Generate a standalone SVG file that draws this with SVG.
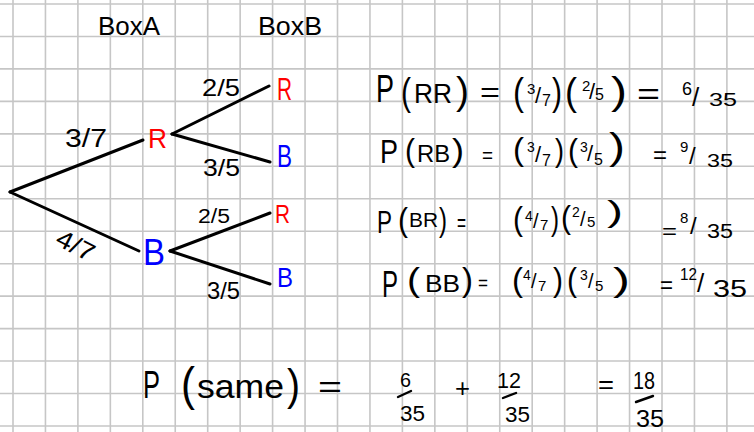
<svg xmlns="http://www.w3.org/2000/svg" width="754" height="432" viewBox="0 0 754 432">
<style>
.grid{stroke:#c6c6c6;stroke-width:1.6;fill:none}
.edge{stroke:#000;stroke-width:3;stroke-linecap:round;fill:none}
.bar{stroke:#000;stroke-width:2.4;stroke-linecap:round}
text{font-family:"Liberation Sans","DejaVu Sans",sans-serif;fill:#000}
.red{fill:#ff0000}
.blue{fill:#0000ff}
</style>
<rect width="754" height="432" fill="#fff"/>
<g id="grid" class="grid">
<path d="M13 0V432M45.45 0V432M77.9 0V432M110.35 0V432M142.8 0V432M175.25 0V432M207.7 0V432M240.15 0V432M272.6 0V432M305.05 0V432M337.5 0V432M369.95 0V432M402.4 0V432M434.85 0V432M467.3 0V432M499.75 0V432M532.2 0V432M564.65 0V432M597.1 0V432M629.55 0V432M662 0V432M694.45 0V432M726.9 0V432"/>
<path d="M0 4H754M0 36.46H754M0 68.92H754M0 101.38H754M0 133.84H754M0 166.3H754M0 198.76H754M0 231.22H754M0 263.68H754M0 296.14H754M0 328.6H754M0 361.06H754M0 393.52H754M0 425.98H754"/>
</g>
<g id="headers">
<text x="98" y="35" font-size="26" textLength="62" lengthAdjust="spacingAndGlyphs">BoxA</text>
<text x="258" y="35" font-size="26" textLength="64" lengthAdjust="spacingAndGlyphs">BoxB</text>
</g>
<g id="connectors">
<path class="edge" d="M10 192L143 140"/>
<path class="edge" d="M10 192L139 251"/>
<path class="edge" d="M172 134L269 86"/>
<path class="edge" d="M172 134L270 162"/>
<path class="edge" d="M170 251L270 213"/>
<path class="edge" d="M170 251L270 284"/>
<text x="65" y="147" font-size="26" textLength="42" lengthAdjust="spacingAndGlyphs">3/7</text>
<text transform="translate(58,236) rotate(27)" y="9" font-size="25" textLength="40" lengthAdjust="spacingAndGlyphs">4/7</text>
<text x="202" y="96" font-size="24" textLength="38" lengthAdjust="spacingAndGlyphs">2/5</text>
<text x="203" y="176" font-size="24" textLength="37" lengthAdjust="spacingAndGlyphs">3/5</text>
<text x="198" y="223" font-size="20" textLength="32" lengthAdjust="spacingAndGlyphs">2/5</text>
<text x="207" y="299" font-size="24" textLength="33" lengthAdjust="spacingAndGlyphs">3/5</text>
</g>
<g id="node-A-R"><text class="red" x="148" y="148" font-size="28" textLength="19" lengthAdjust="spacingAndGlyphs">R</text></g>
<g id="node-A-B"><text class="blue" x="143" y="265" font-size="36" textLength="22" lengthAdjust="spacingAndGlyphs">B</text></g>
<g id="node-RR"><text class="red" x="277" y="100" font-size="31" textLength="15" lengthAdjust="spacingAndGlyphs">R</text></g>
<g id="node-RB"><text class="blue" x="277" y="167" font-size="32" textLength="15" lengthAdjust="spacingAndGlyphs">B</text></g>
<g id="node-BR"><text class="red" x="275" y="223" font-size="25" textLength="15" lengthAdjust="spacingAndGlyphs">R</text></g>
<g id="node-BB"><text class="blue" x="277" y="287" font-size="28" textLength="16" lengthAdjust="spacingAndGlyphs">B</text></g>
<g id="eq-RR">
<text><tspan x="376" y="102" font-size="38" textLength="18" lengthAdjust="spacingAndGlyphs">P</tspan><tspan x="401" y="105" font-size="38" textLength="10" lengthAdjust="spacingAndGlyphs">(</tspan><tspan x="414" y="103" font-size="28" textLength="38" lengthAdjust="spacingAndGlyphs">RR</tspan><tspan x="456" y="104" font-size="38" textLength="13" lengthAdjust="spacingAndGlyphs">)</tspan><tspan x="480" y="102" font-size="28" textLength="20" lengthAdjust="spacingAndGlyphs">=</tspan><tspan x="513" y="105" font-size="38" textLength="11" lengthAdjust="spacingAndGlyphs">(</tspan><tspan x="527" y="94" font-size="15">3</tspan><tspan x="535" y="103" font-size="22">/</tspan><tspan x="542" y="106" font-size="16">7</tspan><tspan x="552" y="105" font-size="38" textLength="10" lengthAdjust="spacingAndGlyphs">)</tspan><tspan x="565" y="105" font-size="38" textLength="12" lengthAdjust="spacingAndGlyphs">(</tspan><tspan x="582" y="91" font-size="15">2</tspan><tspan x="589" y="99" font-size="22">/</tspan><tspan x="595" y="100" font-size="16">5</tspan><tspan x="611" y="104" font-size="38" textLength="16" lengthAdjust="spacingAndGlyphs">)</tspan><tspan x="637" y="104" font-size="30" textLength="23" lengthAdjust="spacingAndGlyphs">=</tspan><tspan x="682" y="95" font-size="18">6</tspan><tspan x="692" y="106" font-size="26">/</tspan><tspan x="709" y="106" font-size="19" textLength="28" lengthAdjust="spacingAndGlyphs">35</tspan></text>
</g>
<g id="eq-RB">
<text><tspan x="380" y="163" font-size="34" textLength="18" lengthAdjust="spacingAndGlyphs">P</tspan><tspan x="405" y="161" font-size="32" textLength="10" lengthAdjust="spacingAndGlyphs">(</tspan><tspan x="417" y="162" font-size="24" textLength="33" lengthAdjust="spacingAndGlyphs">RB</tspan><tspan x="452" y="161" font-size="32" textLength="12" lengthAdjust="spacingAndGlyphs">)</tspan><tspan x="482" y="163" font-size="22" textLength="11" lengthAdjust="spacingAndGlyphs">=</tspan><tspan x="513" y="160" font-size="32" textLength="11" lengthAdjust="spacingAndGlyphs">(</tspan><tspan x="527" y="152" font-size="14">3</tspan><tspan x="535" y="162" font-size="22">/</tspan><tspan x="542" y="166" font-size="16">7</tspan><tspan x="555" y="161" font-size="32" textLength="9" lengthAdjust="spacingAndGlyphs">)</tspan><tspan x="568" y="161" font-size="32" textLength="10" lengthAdjust="spacingAndGlyphs">(</tspan><tspan x="580" y="152" font-size="14">3</tspan><tspan x="587" y="161" font-size="22">/</tspan><tspan x="594" y="165" font-size="16">5</tspan><tspan x="609" y="159" font-size="36" textLength="16" lengthAdjust="spacingAndGlyphs">)</tspan><tspan x="653" y="163" font-size="24" textLength="14" lengthAdjust="spacingAndGlyphs">=</tspan><tspan x="680" y="152" font-size="15">9</tspan><tspan x="689" y="164" font-size="24">/</tspan><tspan x="707" y="167" font-size="19" textLength="26" lengthAdjust="spacingAndGlyphs">35</tspan></text>
</g>
<g id="eq-BR">
<text><tspan x="377" y="233" font-size="31" textLength="15" lengthAdjust="spacingAndGlyphs">P</tspan><tspan x="398" y="231" font-size="34" textLength="10" lengthAdjust="spacingAndGlyphs">(</tspan><tspan x="409" y="227" font-size="21" textLength="29" lengthAdjust="spacingAndGlyphs">BR</tspan><tspan x="439" y="231" font-size="34" textLength="8" lengthAdjust="spacingAndGlyphs">)</tspan><tspan x="457" y="231" font-size="26" textLength="9" lengthAdjust="spacingAndGlyphs">=</tspan><tspan x="513" y="230" font-size="34" textLength="10" lengthAdjust="spacingAndGlyphs">(</tspan><tspan x="525" y="221" font-size="14">4</tspan><tspan x="533" y="228" font-size="20">/</tspan><tspan x="540" y="230" font-size="15">7</tspan><tspan x="551" y="230" font-size="34" textLength="8" lengthAdjust="spacingAndGlyphs">)</tspan><tspan x="561" y="228" font-size="32" textLength="10" lengthAdjust="spacingAndGlyphs">(</tspan><tspan x="572" y="217" font-size="14">2</tspan><tspan x="580" y="226" font-size="20">/</tspan><tspan x="587" y="227" font-size="15">5</tspan><tspan x="607" y="222" font-size="30" textLength="16" lengthAdjust="spacingAndGlyphs">)</tspan><tspan x="662" y="239" font-size="22" textLength="15" lengthAdjust="spacingAndGlyphs">=</tspan><tspan x="680" y="223" font-size="15">8</tspan><tspan x="690" y="234" font-size="24">/</tspan><tspan x="707" y="238" font-size="20" textLength="26" lengthAdjust="spacingAndGlyphs">35</tspan></text>
</g>
<g id="eq-BB">
<text><tspan x="382" y="297" font-size="36" textLength="16" lengthAdjust="spacingAndGlyphs">P</tspan><tspan x="407" y="291" font-size="33" textLength="13" lengthAdjust="spacingAndGlyphs">(</tspan><tspan x="425" y="292" font-size="24" textLength="35" lengthAdjust="spacingAndGlyphs">BB</tspan><tspan x="462" y="291" font-size="33" textLength="11" lengthAdjust="spacingAndGlyphs">)</tspan><tspan x="478" y="290" font-size="20" textLength="10" lengthAdjust="spacingAndGlyphs">=</tspan><tspan x="512" y="291" font-size="33" textLength="11" lengthAdjust="spacingAndGlyphs">(</tspan><tspan x="523" y="280" font-size="14">4</tspan><tspan x="531" y="288" font-size="20">/</tspan><tspan x="538" y="291" font-size="15">7</tspan><tspan x="553" y="291" font-size="33" textLength="10" lengthAdjust="spacingAndGlyphs">)</tspan><tspan x="567" y="291" font-size="33" textLength="10" lengthAdjust="spacingAndGlyphs">(</tspan><tspan x="580" y="280" font-size="14">3</tspan><tspan x="588" y="288" font-size="20">/</tspan><tspan x="595" y="291" font-size="15">5</tspan><tspan x="613" y="291" font-size="33" textLength="17" lengthAdjust="spacingAndGlyphs">)</tspan><tspan x="660" y="293" font-size="24" textLength="13" lengthAdjust="spacingAndGlyphs">=</tspan><tspan x="680" y="280" font-size="16" textLength="17" lengthAdjust="spacingAndGlyphs">12</tspan><tspan x="697" y="292" font-size="26">/</tspan><tspan x="713" y="297" font-size="24" textLength="34" lengthAdjust="spacingAndGlyphs">35</tspan></text>
</g>
<g id="eq-same">
<text><tspan x="143" y="398" font-size="38" textLength="17" lengthAdjust="spacingAndGlyphs">P</tspan><tspan x="181" y="400" font-size="46" textLength="14" lengthAdjust="spacingAndGlyphs">(</tspan><tspan x="197" y="398" font-size="33" textLength="87" lengthAdjust="spacingAndGlyphs">same</tspan><tspan x="287" y="400" font-size="44" textLength="13" lengthAdjust="spacingAndGlyphs">)</tspan><tspan x="318" y="397" font-size="30" textLength="24" lengthAdjust="spacingAndGlyphs">=</tspan></text>
<text x="400" y="387" font-size="20" textLength="11" lengthAdjust="spacingAndGlyphs">6</text>
<line class="bar" x1="398" y1="397" x2="411" y2="391"/>
<text x="400" y="421" font-size="22" textLength="25" lengthAdjust="spacingAndGlyphs">35</text>
<text x="455" y="397" font-size="26" textLength="15" lengthAdjust="spacingAndGlyphs">+</text>
<text x="497" y="388" font-size="22" textLength="24" lengthAdjust="spacingAndGlyphs">12</text>
<line class="bar" x1="503" y1="398" x2="516" y2="393"/>
<text x="505" y="422" font-size="22" textLength="25" lengthAdjust="spacingAndGlyphs">35</text>
<text x="598" y="393" font-size="26" textLength="16" lengthAdjust="spacingAndGlyphs">=</text>
<text x="633" y="389" font-size="24" textLength="22" lengthAdjust="spacingAndGlyphs">18</text>
<line class="bar" x1="636" y1="402" x2="653" y2="396"/>
<text x="636" y="427" font-size="24" textLength="28" lengthAdjust="spacingAndGlyphs">35</text>
</g>
</svg>
